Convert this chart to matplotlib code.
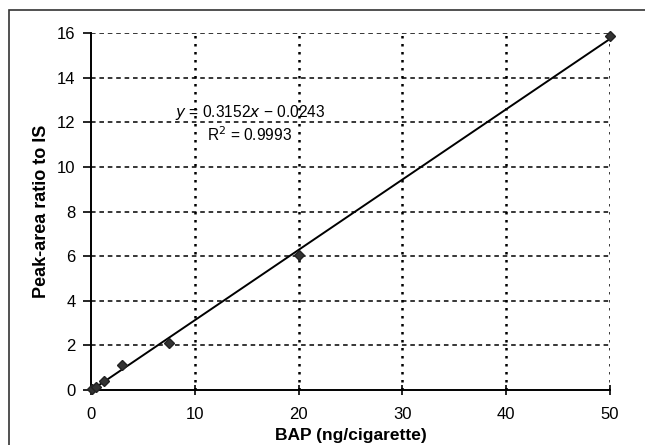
import numpy as np
import matplotlib.pyplot as plt
from matplotlib.patches import Rectangle

plt.rcParams['font.family'] = ['Liberation Sans', 'DejaVu Sans']

# BAP standards (ng/cigarette) and measured peak-area ratio
bap = [0.1, 0.5, 1.25, 3.0, 7.5, 20.0, 50.0]
ratio = [0.03, 0.12, 0.41, 1.12, 2.1, 6.05, 15.85]
slope = 0.3152
intercept = -0.0243

xticks = [0, 10, 20, 30, 40, 50]
yticks = [0, 2, 4, 6, 8, 10, 12, 14, 16]

fig = plt.figure(figsize=(6.45, 4.45), dpi=100)
# outer frame of the original figure (only left and top edges are visible)
fig.patches.append(Rectangle((9 / 645, -0.1), 1.2, 1.1 - 10 / 445,
                             transform=fig.transFigure, fill=False,
                             edgecolor='#333333', linewidth=1.2))

ax = fig.add_axes([91 / 645, 1 - 390 / 445, 519 / 645, 357 / 445])

xfit = np.array([0, 50])
ax.plot(xfit, slope * xfit + intercept, color='black', linewidth=1.4, zorder=3)
ax.plot(bap, ratio, linestyle='none', marker='D', markersize=5.5,
        color='#333333', markeredgecolor='#222222', zorder=4, clip_on=False)

ax.set_xlim(0, 50)
ax.set_ylim(0, 16)
ax.set_xticks(xticks)
ax.set_yticks(yticks)

for y in yticks[1:]:
    ax.axhline(y, color='black', linestyle=(0, (3, 2.5)), linewidth=1.1, zorder=1)
for x in xticks[1:]:
    ax.axvline(x, color='black', linestyle=(0, (1, 2.2)), linewidth=1.8, zorder=1)

for s in ['top', 'right']:
    ax.spines[s].set_visible(False)
ax.spines['left'].set_linewidth(1.4)
ax.spines['bottom'].set_linewidth(1.4)
ax.tick_params(axis='y', direction='out', length=6, width=1.2, labelsize=12, pad=5)
ax.tick_params(axis='x', direction='inout', length=7, width=1.2, labelsize=12, pad=9)

ax.set_xlabel('BAP (ng/cigarette)', fontsize=12.5, fontweight='bold', labelpad=4)
ax.set_ylabel('Peak-area ratio to IS', fontsize=13, fontweight='bold', labelpad=5)

ax.text(15.3, 12.45, '$y$ = 0.3152$x$ \u2212 0.0243', ha='center', va='center',
        fontsize=11.2)
ax.text(15.3, 11.45, 'R$^2$ = 0.9993', ha='center', va='center', fontsize=11.2)

fig.savefig('out.png', dpi=100)
